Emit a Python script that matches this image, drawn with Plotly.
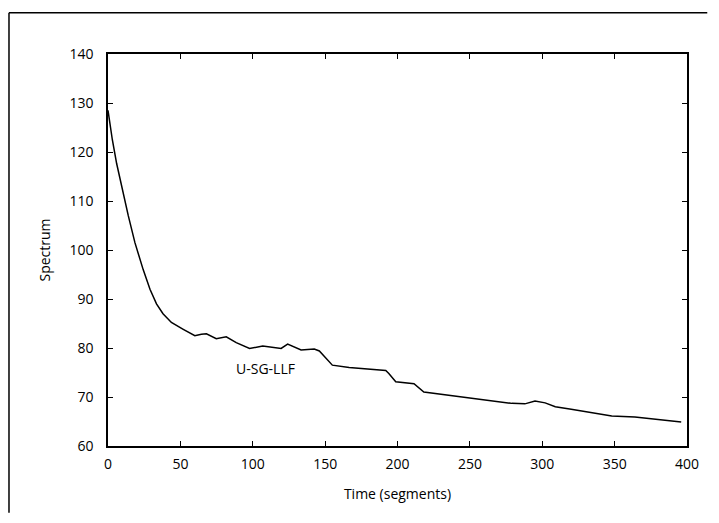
import plotly.graph_objects as go

# Werte (Zeit in Segmenten, Spektrum)
zeit = [0, 3, 6, 9.4, 14, 18.6, 24.3, 29, 33.5, 38, 43.8, 52, 60, 64.5, 68,
        74.8, 81.7, 88.6, 97.8, 106.9, 119.6, 124.1, 133.4, 142.5, 146, 155,
        166.6, 191.9, 194, 198.8, 211.4, 218.2, 233.2, 256, 279, 288, 295,
        302, 309, 320, 334, 348, 364, 380, 396]
spektrum = [128.5, 122.5, 117.6, 113.0, 107.0, 101.5, 96.0, 92.0, 89.0, 87.0,
            85.2, 83.8, 82.5, 82.8, 82.9, 81.9, 82.3, 81.1, 79.9, 80.4, 79.9,
            80.8, 79.6, 79.8, 79.4, 76.5, 76.0, 75.4, 74.8, 73.1, 72.7, 71.0,
            70.4, 69.5, 68.7, 68.6, 69.2, 68.8, 68.0, 67.5, 66.8, 66.1, 65.9,
            65.4, 64.9]

x_ticks = [0, 50, 100, 150, 200, 250, 300, 350, 400]
y_ticks = [60, 70, 80, 90, 100, 110, 120, 130, 140]

schrift = "Open Sans"

fig = go.Figure()
fig.add_trace(go.Scatter(
    x=zeit, y=spektrum, mode="lines",
    line=dict(color="black", width=1.5),
    showlegend=False,
))

# Beschriftung der Kurve
fig.add_annotation(x=109, y=75.9, text="U-SG-LLF", showarrow=False,
                   font=dict(family=schrift, size=14, color="black"))

achse = dict(
    showline=True, linecolor="black", linewidth=1.5, mirror="ticks",
    ticks="inside", ticklen=5, tickwidth=1.2, tickcolor="black",
    showgrid=False, zeroline=False,
    tickfont=dict(family=schrift, size=14, color="black"),
)

fig.update_xaxes(range=[0, 400], tickvals=x_ticks, ticklabelstandoff=4, **achse,
                 title=dict(text="Time (segments)", standoff=18,
                            font=dict(family=schrift, size=14, color="black")))
fig.update_yaxes(range=[60, 140], tickvals=y_ticks, ticklabelstandoff=10, **achse,
                 title=dict(text="Spectrum", standoff=16,
                            font=dict(family=schrift, size=14, color="black")))

# Rahmen des gescannten Bildes (oben und links), nur innerhalb der Figur
fig.add_shape(type="line", xref="paper", yref="paper",
              x0=-0.171, y0=1.105, x1=1.035, y1=1.105,
              line=dict(color="black", width=1.5))
fig.add_shape(type="line", xref="paper", yref="paper",
              x0=-0.171, y0=1.105, x1=-0.171, y1=-0.17,
              line=dict(color="black", width=1.5))

fig.update_layout(
    width=703, height=507,
    margin=dict(l=100, r=22, t=46, b=69),
    plot_bgcolor="white", paper_bgcolor="white",
    font=dict(family=schrift, color="black"),
)

fig.write_html("out.html")
